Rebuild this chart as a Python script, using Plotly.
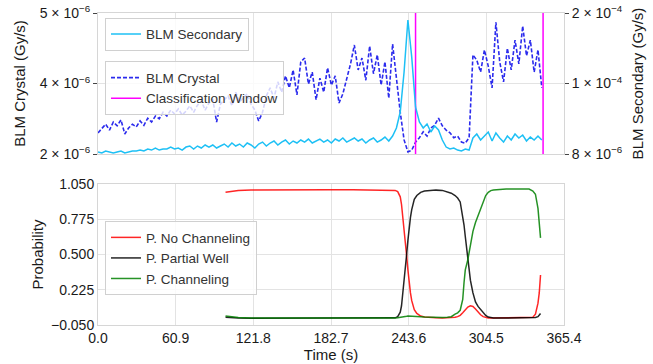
import numpy as np
import plotly.graph_objects as go

# ---------------- data ----------------
time_s = np.arange(0, 349, 3)  # 0 ... 348 s

crystal_uGy = [2.79, 2.88, 2.95, 2.84, 2.99, 2.92, 3.03, 2.77, 2.88, 2.95,
               2.90, 3.01, 2.93, 3.06, 2.99, 3.10, 3.05, 3.17, 3.10, 3.21,
               3.14, 3.23, 3.12, 3.19, 3.29, 3.17, 3.30, 3.38, 3.21, 3.34,
               3.41, 2.99, 3.32, 3.40, 3.47, 3.29, 3.54, 3.36, 3.43, 3.51,
               3.32, 3.21, 3.01, 3.17, 3.47, 3.62, 3.43, 3.73, 3.54, 3.84,
               3.62, 3.95, 3.49, 4.10, 4.17, 3.69, 3.91, 3.40, 3.80, 3.54,
               3.99, 3.67, 3.84, 3.34, 3.51, 3.80, 4.06, 4.41, 3.95, 4.17,
               3.76, 4.39, 3.88, 4.23, 3.67, 4.10, 3.43, 4.43, 3.76, 3.17,
               2.66, 2.44, 2.47, 2.62, 2.70, 2.81, 2.73, 2.88, 2.93, 3.06,
               2.92, 2.84, 2.79, 2.70, 2.73, 2.62, 2.60, 2.70, 4.23, 4.13,
               3.91, 4.32, 4.02, 3.62, 4.83, 4.10, 3.73, 4.35, 3.95, 4.50,
               4.06, 4.76, 4.21, 4.50, 3.91, 4.32, 3.62]

secondary_uGy = [10.7, 9.4, 12.1, 10.7, 9.4, 10.7, 12.1, 9.4, 10.7, 12.1,
                 12.1, 13.4, 12.1, 14.8, 13.4, 16.2, 13.4, 14.8, 14.8, 17.5,
                 14.8, 16.2, 13.4, 17.5, 18.9, 14.8, 18.9, 16.2, 20.3, 17.5,
                 20.3, 16.2, 18.9, 21.6, 17.5, 23.0, 18.9, 21.6, 17.5, 23.0,
                 20.3, 16.2, 21.6, 24.3, 18.9, 23.0, 25.7, 20.3, 24.3, 27.1,
                 21.6, 25.7, 23.0, 27.1, 24.3, 28.4, 23.0, 25.7, 28.4, 24.3,
                 27.1, 23.0, 28.4, 25.7, 29.8, 24.3, 27.1, 29.8, 25.7, 28.4,
                 23.0, 27.1, 29.8, 24.3, 27.1, 31.1, 25.7, 32.5, 43.4, 65.2,
                 119.7, 190.5, 140.0, 72.0, 51.6, 43.4, 48.9, 38.0, 46.1, 40.7,
                 27.1, 17.5, 14.8, 16.2, 13.4, 12.1, 14.8, 13.4, 29.8, 35.2,
                 27.1, 32.5, 38.0, 25.7, 36.6, 29.8, 24.3, 32.5, 27.1, 35.2,
                 29.8, 33.9, 25.7, 31.1, 27.1, 32.5, 27.1]

window_s = [249, 349]

prob_time = [100, 105, 110, 120, 140, 160, 180, 200, 220, 230,
             233, 235, 237, 238, 239, 240, 241, 242, 243, 244,
             245, 246, 247, 248, 250, 253, 256, 260, 265, 270,
             274, 277, 280, 282, 284, 286, 287, 288, 290, 292,
             294, 296, 298, 300, 302, 304, 306, 308, 310, 315,
             320, 330, 338, 341, 343, 345, 346, 347]

p_no_channeling = [0.985, 0.995, 1.0, 1.003, 1.005, 1.005, 1.005, 1.005, 1.005, 1.005,
                   1.0, 0.99, 0.95, 0.89, 0.8, 0.68, 0.58, 0.49, 0.38, 0.28,
                   0.2, 0.14, 0.1, 0.07, 0.04, 0.02, 0.012, 0.008, 0.006, 0.005,
                   0.006, 0.007, 0.01, 0.015, 0.025, 0.045, 0.058, 0.07, 0.09, 0.1,
                   0.095, 0.075, 0.05, 0.03, 0.015, 0.008, 0.005, 0.005, 0.005, 0.005,
                   0.005, 0.005, 0.005, 0.01, 0.035, 0.12, 0.2, 0.34]

p_partial_well = [0.01, 0.006, 0.004, 0.003, 0.003, 0.003, 0.003, 0.003, 0.003, 0.004,
                  0.006, 0.015, 0.05, 0.1, 0.19, 0.3, 0.41, 0.5, 0.61, 0.71,
                  0.79, 0.85, 0.9, 0.93, 0.96, 0.985, 0.995, 1.0, 1.002, 1.0,
                  0.99, 0.978, 0.96, 0.94, 0.91, 0.8, 0.73, 0.64, 0.46, 0.3,
                  0.2, 0.13, 0.095, 0.07, 0.048, 0.025, 0.012, 0.007, 0.005, 0.004,
                  0.004, 0.004, 0.004, 0.005, 0.008, 0.015, 0.025, 0.04]

p_channeling = [0.02, 0.012, 0.008, 0.005, 0.004, 0.004, 0.004, 0.004, 0.004, 0.004,
                0.005, 0.006, 0.008, 0.01, 0.012, 0.014, 0.016, 0.018, 0.02, 0.02,
                0.02, 0.02, 0.02, 0.02, 0.018, 0.015, 0.012, 0.01, 0.008, 0.008,
                0.01, 0.015, 0.035, 0.045, 0.065, 0.15, 0.28, 0.38, 0.46, 0.58,
                0.68, 0.75, 0.8, 0.85, 0.91, 0.96, 0.985, 0.998, 1.003, 1.008,
                1.01, 1.01, 1.01, 0.995, 0.97, 0.86, 0.76, 0.63]

x_ticks = [0.0, 60.9, 121.8, 182.7, 243.6, 304.5, 365.4]
x_ticktext = ["0.0", "60.9", "121.8", "182.7", "243.6", "304.5", "365.4"]

crystal_range = [2.4e-6, 5.0e-6]
crystal_ticks = [2.4e-6, 3.7e-6, 5.0e-6]
crystal_ticktext = ["2 × 10<sup>−6</sup>", "4 × 10<sup>−6</sup>", "5 × 10<sup>−6</sup>"]

secondary_range = [8e-6, 2e-4]
secondary_ticks = [8e-6, 1.04e-4, 2e-4]
secondary_ticktext = ["8 × 10<sup>−6</sup>", "1 × 10<sup>−4</sup>", "2 × 10<sup>−4</sup>"]

prob_range = [-0.05, 1.05]
prob_ticks = [-0.05, 0.225, 0.5, 0.775, 1.05]
prob_ticktext = ["−0.050", "0.225", "0.500", "0.775", "1.050"]

# ---------------- figure ----------------
crystal = np.array(crystal_uGy) * 1e-6
secondary = np.array(secondary_uGy) * 1e-6

fig = go.Figure()

fig.add_trace(go.Scatter(x=time_s, y=secondary, mode="lines", name="BLM Secondary",
                         line=dict(color="#1ec0f5", width=1.5),
                         xaxis="x", yaxis="y2", legend="legend"))
fig.add_trace(go.Scatter(x=time_s, y=crystal, mode="lines", name="BLM Crystal",
                         line=dict(color="rgba(20,20,235,0.9)", width=1.6, dash="4px,2px"),
                         xaxis="x", yaxis="y", legend="legend2"))
wx, wy = [], []
for w in window_s:
    wx += [w, w, None]
    wy += [crystal_range[0], crystal_range[1], None]
fig.add_trace(go.Scatter(x=wx, y=wy, mode="lines", name="Classification Window",
                         line=dict(color="#ff00ff", width=1.5),
                         xaxis="x", yaxis="y", legend="legend2"))

for name, vals, col in [("P. No Channeling", p_no_channeling, "#ff0000"),
                        ("P. Partial Well", p_partial_well, "#000000"),
                        ("P. Channeling", p_channeling, "#008000")]:
    fig.add_trace(go.Scatter(x=prob_time, y=vals, mode="lines", name=name,
                             line=dict(color=col, width=1.5), opacity=0.85,
                             xaxis="x2", yaxis="y3", legend="legend3"))

grid = "#e3e3e3"
frame = "#d6d6d6"
axis_common = dict(showgrid=True, gridcolor=grid, gridwidth=1, showline=True,
                   linecolor=frame, linewidth=1, mirror=True, zeroline=False,
                   automargin=False, tickfont=dict(size=14))

legend_style = dict(bgcolor="rgba(255,255,255,0.8)", bordercolor="#d0d0d0",
                    borderwidth=1, xanchor="left", yanchor="top",
                    font=dict(size=13.5, color="#333"), tracegroupgap=0)

fig.update_layout(
    width=653, height=364, autosize=False,
    margin=dict(l=98, r=89, t=13, b=39),
    paper_bgcolor="white", plot_bgcolor="white",
    font=dict(family="Liberation Sans, Arial, sans-serif", size=14, color="#1a1a1a"),
    xaxis=dict(domain=[0, 1], anchor="y", range=[0, 365.4], tickvals=x_ticks,
               showticklabels=False, **axis_common),
    yaxis=dict(domain=[0.548, 1], anchor="x", range=crystal_range,
               tickvals=crystal_ticks, ticktext=crystal_ticktext,
               ticks="outside", ticklen=4, tickcolor="#444",
               title=dict(text="BLM Crystal (Gy/s)", font=dict(size=15), standoff=10),
               **axis_common),
    yaxis2=dict(overlaying="y", side="right", anchor="x", range=secondary_range,
                tickvals=secondary_ticks, ticktext=secondary_ticktext,
                ticks="outside", ticklen=4, tickcolor="#444", showgrid=False,
                zeroline=False, showline=False, automargin=False,
                tickfont=dict(size=14),
                title=dict(text="BLM Secondary (Gy/s)", font=dict(size=15), standoff=10)),
    xaxis2=dict(domain=[0, 1], anchor="y3", range=[0, 365.4], tickvals=x_ticks,
                ticktext=x_ticktext,
                title=dict(text="Time (s)", font=dict(size=15), standoff=0),
                **axis_common),
    yaxis3=dict(domain=[0, 0.452], anchor="x2", range=prob_range,
                tickvals=prob_ticks, ticktext=prob_ticktext,
                title=dict(text="Probability", font=dict(size=15), standoff=3),
                **axis_common),
    legend=dict(x=0.015, y=0.985, **legend_style),
    legend2=dict(x=0.015, y=0.845, **legend_style),
    legend3=dict(x=0.015, y=0.333, **legend_style),
    showlegend=True,
)

fig.write_html("out.html", config={"responsive": False, "displayModeBar": False},
               post_script="document.body.style.margin='0';document.body.style.overflow='hidden';")
